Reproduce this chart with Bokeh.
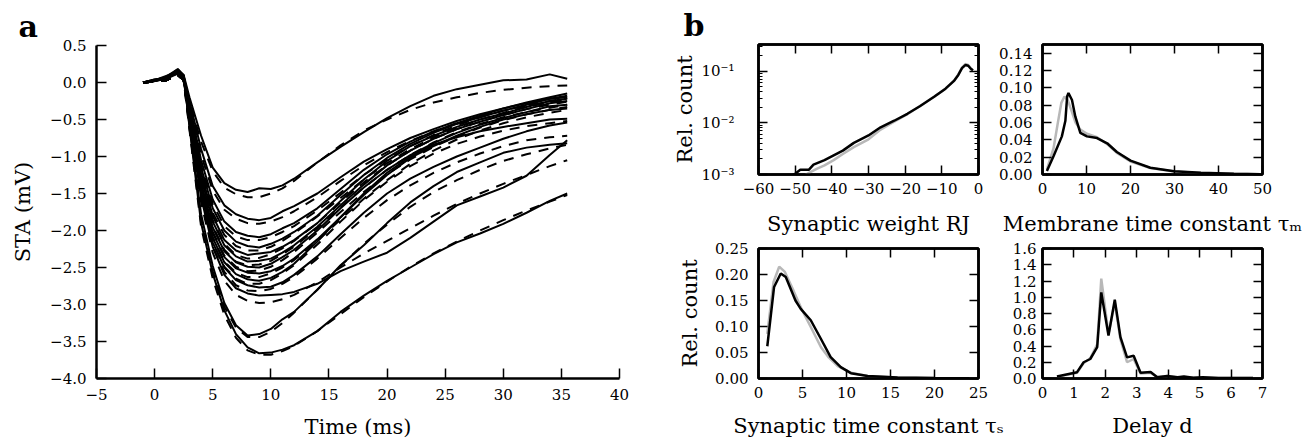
from bokeh.plotting import figure
from bokeh.layouts import row, column
from bokeh.models import (Title, LinearAxis, LogAxis, FixedTicker,
                          CustomJSTickFormatter, Range1d)
from bokeh.embed import file_html
from bokeh.resources import INLINE

FONT = "DejaVu Serif"

# ---------------- panel a data: spike-triggered averages (solid) and fits (dashed)
T = [-1, 0, 1, 2, 2.5, 3, 4, 5, 6, 7, 8, 9, 10, 11, 12, 14, 16, 18, 20, 22, 24, 26, 28, 30, 32, 34, 35.5]

STA_1 = [0.00, 0.03, 0.07, 0.17, 0.10, -0.20, -0.72, -1.15, -1.36, -1.45, -1.48, -1.43, -1.44, -1.39, -1.30, -1.08, -0.87, -0.67, -0.48, -0.32, -0.18, -0.09, -0.03, 0.03, 0.04, 0.11, 0.05]
FIT_1 = [0.00, 0.01, 0.04, 0.10, 0.04, -0.26, -0.80, -1.20, -1.42, -1.51, -1.55, -1.55, -1.50, -1.43, -1.33, -1.08, -0.85, -0.65, -0.50, -0.37, -0.27, -0.20, -0.14, -0.10, -0.07, -0.05, -0.04]
STA_2 = [0.00, 0.02, 0.05, 0.15, 0.08, -0.25, -0.90, -1.40, -1.66, -1.78, -1.84, -1.86, -1.83, -1.74, -1.67, -1.50, -1.28, -1.07, -0.90, -0.75, -0.63, -0.52, -0.43, -0.35, -0.28, -0.22, -0.20]
FIT_2 = [0.00, 0.01, 0.03, 0.10, 0.03, -0.30, -0.98, -1.46, -1.72, -1.84, -1.90, -1.91, -1.88, -1.82, -1.74, -1.55, -1.33, -1.12, -0.94, -0.79, -0.66, -0.55, -0.46, -0.38, -0.31, -0.26, -0.22]
STA_3 = [0.00, 0.04, 0.06, 0.14, 0.07, -0.30, -1.05, -1.58, -1.88, -2.02, -2.07, -2.09, -2.05, -1.97, -1.90, -1.70, -1.44, -1.18, -0.97, -0.80, -0.66, -0.55, -0.45, -0.35, -0.27, -0.20, -0.15]
FIT_3 = [0.00, 0.01, 0.03, 0.10, 0.03, -0.34, -1.12, -1.64, -1.94, -2.08, -2.13, -2.13, -2.09, -2.02, -1.94, -1.73, -1.49, -1.25, -1.04, -0.86, -0.71, -0.58, -0.47, -0.38, -0.31, -0.25, -0.21]
STA_4 = [0.00, 0.02, 0.08, 0.13, 0.06, -0.33, -1.15, -1.70, -2.00, -2.15, -2.21, -2.23, -2.18, -2.11, -2.02, -1.80, -1.52, -1.25, -1.02, -0.83, -0.68, -0.56, -0.47, -0.38, -0.30, -0.22, -0.18]
FIT_4 = [0.00, 0.01, 0.03, 0.10, 0.03, -0.37, -1.20, -1.76, -2.06, -2.21, -2.27, -2.27, -2.22, -2.14, -2.04, -1.81, -1.56, -1.31, -1.09, -0.90, -0.74, -0.61, -0.50, -0.41, -0.33, -0.27, -0.23]
STA_5 = [0.00, 0.03, 0.05, 0.16, 0.09, -0.36, -1.22, -1.80, -2.13, -2.27, -2.33, -2.31, -2.29, -2.22, -2.13, -1.90, -1.60, -1.31, -1.06, -0.86, -0.72, -0.60, -0.50, -0.42, -0.33, -0.25, -0.22]
FIT_5 = [0.00, 0.01, 0.03, 0.10, 0.03, -0.40, -1.28, -1.86, -2.18, -2.33, -2.38, -2.37, -2.32, -2.24, -2.14, -1.90, -1.62, -1.35, -1.12, -0.92, -0.76, -0.63, -0.53, -0.44, -0.36, -0.30, -0.26]
STA_6 = [0.00, 0.02, 0.07, 0.12, 0.05, -0.40, -1.28, -1.88, -2.20, -2.35, -2.42, -2.41, -2.38, -2.30, -2.20, -1.95, -1.66, -1.38, -1.12, -0.92, -0.76, -0.63, -0.53, -0.44, -0.36, -0.28, -0.25]
FIT_6 = [0.00, 0.01, 0.03, 0.10, 0.03, -0.43, -1.33, -1.94, -2.26, -2.42, -2.47, -2.46, -2.41, -2.32, -2.22, -1.97, -1.69, -1.42, -1.18, -0.98, -0.81, -0.67, -0.56, -0.47, -0.40, -0.34, -0.30]
STA_7 = [0.00, 0.04, 0.06, 0.18, 0.10, -0.42, -1.35, -1.96, -2.28, -2.43, -2.49, -2.50, -2.45, -2.36, -2.26, -2.00, -1.70, -1.42, -1.18, -0.98, -0.82, -0.68, -0.57, -0.48, -0.40, -0.32, -0.30]
FIT_7 = [0.00, 0.01, 0.03, 0.10, 0.03, -0.46, -1.40, -2.02, -2.34, -2.49, -2.55, -2.54, -2.49, -2.40, -2.29, -2.03, -1.75, -1.48, -1.24, -1.04, -0.87, -0.73, -0.61, -0.51, -0.43, -0.37, -0.33]
STA_8 = [0.00, 0.03, 0.09, 0.15, 0.07, -0.45, -1.40, -2.03, -2.36, -2.51, -2.57, -2.58, -2.55, -2.48, -2.38, -2.12, -1.82, -1.52, -1.25, -1.02, -0.86, -0.72, -0.60, -0.50, -0.43, -0.37, -0.35]
FIT_8 = [0.00, 0.01, 0.03, 0.10, 0.03, -0.49, -1.46, -2.09, -2.42, -2.57, -2.63, -2.63, -2.58, -2.50, -2.40, -2.14, -1.85, -1.57, -1.32, -1.10, -0.92, -0.77, -0.65, -0.55, -0.47, -0.41, -0.37]
STA_9 = [0.00, 0.02, 0.06, 0.14, 0.06, -0.48, -1.47, -2.10, -2.43, -2.59, -2.66, -2.68, -2.64, -2.56, -2.45, -2.15, -1.82, -1.50, -1.22, -1.00, -0.84, -0.74, -0.66, -0.60, -0.55, -0.50, -0.49]
FIT_9 = [0.00, 0.01, 0.03, 0.10, 0.03, -0.52, -1.52, -2.16, -2.49, -2.65, -2.72, -2.72, -2.67, -2.58, -2.47, -2.19, -1.88, -1.59, -1.34, -1.13, -0.96, -0.83, -0.73, -0.65, -0.59, -0.55, -0.52]
STA_10 = [0.00, 0.03, 0.07, 0.13, 0.05, -0.50, -1.50, -2.16, -2.50, -2.67, -2.74, -2.77, -2.76, -2.70, -2.60, -2.35, -2.05, -1.76, -1.50, -1.30, -1.14, -1.00, -0.88, -0.76, -0.66, -0.58, -0.54]
FIT_10 = [0.00, 0.01, 0.03, 0.10, 0.03, -0.54, -1.56, -2.22, -2.56, -2.74, -2.81, -2.82, -2.79, -2.72, -2.63, -2.38, -2.10, -1.83, -1.59, -1.39, -1.22, -1.08, -0.96, -0.86, -0.78, -0.74, -0.72]
STA_11 = [0.00, 0.02, 0.05, 0.12, 0.04, -0.52, -1.55, -2.22, -2.60, -2.78, -2.85, -2.88, -2.87, -2.86, -2.83, -2.72, -2.55, -2.42, -2.30, -2.10, -1.88, -1.66, -1.54, -1.42, -1.26, -0.98, -0.78]
FIT_11 = [0.00, 0.01, 0.03, 0.10, 0.03, -0.56, -1.62, -2.30, -2.68, -2.87, -2.95, -2.98, -2.97, -2.93, -2.87, -2.70, -2.50, -2.31, -2.14, -1.97, -1.80, -1.64, -1.50, -1.37, -1.25, -1.13, -1.05]
STA_12 = [0.00, 0.03, 0.06, 0.16, 0.08, -0.58, -1.78, -2.48, -2.98, -3.28, -3.42, -3.40, -3.33, -3.20, -3.10, -2.80, -2.47, -2.20, -1.90, -1.62, -1.40, -1.21, -1.08, -0.95, -0.88, -0.84, -0.82]
FIT_12 = [0.00, 0.01, 0.03, 0.10, 0.03, -0.62, -1.84, -2.55, -3.03, -3.31, -3.44, -3.44, -3.37, -3.25, -3.11, -2.80, -2.48, -2.18, -1.92, -1.68, -1.48, -1.32, -1.18, -1.06, -0.97, -0.89, -0.84]
STA_13 = [0.00, 0.02, 0.08, 0.18, 0.09, -0.60, -1.90, -2.58, -3.08, -3.40, -3.58, -3.66, -3.65, -3.61, -3.55, -3.36, -3.10, -2.88, -2.68, -2.50, -2.32, -2.16, -2.04, -1.91, -1.76, -1.60, -1.50]
FIT_13 = [0.00, 0.01, 0.03, 0.10, 0.03, -0.64, -1.95, -2.65, -3.14, -3.45, -3.62, -3.68, -3.68, -3.63, -3.56, -3.36, -3.13, -2.90, -2.69, -2.49, -2.31, -2.15, -2.00, -1.86, -1.73, -1.61, -1.52]

STAS = [STA_1, STA_2, STA_3, STA_4, STA_5, STA_6, STA_7, STA_8, STA_9, STA_10, STA_11, STA_12, STA_13]
FITS = [FIT_1, FIT_2, FIT_3, FIT_4, FIT_5, FIT_6, FIT_7, FIT_8, FIT_9, FIT_10, FIT_11, FIT_12, FIT_13]

A_XTICKS = [-5, 0, 5, 10, 15, 20, 25, 30, 35, 40]
A_YTICKS = [-4.0, -3.5, -3.0, -2.5, -2.0, -1.5, -1.0, -0.5, 0.0, 0.5]

# ---------------- panel b data: distributions (grey and black)
W_X_BLACK = [-51, -50, -48.6, -46.3, -45, -42, -39.5, -37, -34, -30, -26.7, -23, -19.4, -16, -12.1, -9, -6.6, -5.5, -4.5, -3.6, -2.8, -2.1, -1.5]
W_Y_BLACK = [0.00095, 0.00103, 0.00123, 0.00123, 0.00155, 0.0019, 0.00235, 0.0029, 0.0041, 0.0057, 0.0082, 0.011, 0.015, 0.021, 0.032, 0.046, 0.066, 0.085, 0.115, 0.132, 0.128, 0.112, 0.105]
W_X_GREY = [-47.5, -46, -44, -42, -39.5, -37, -34, -30, -26.7, -23, -19.4, -16, -12.1, -9, -6.6, -5.5, -4.5, -3.6, -2.8, -2.1, -1.5]
W_Y_GREY = [0.00095, 0.0011, 0.0013, 0.0015, 0.0019, 0.0025, 0.0034, 0.0048, 0.0074, 0.0105, 0.0148, 0.021, 0.032, 0.046, 0.067, 0.087, 0.118, 0.138, 0.132, 0.114, 0.104]

TM_X_BLACK = [1.0, 2.5, 4.4, 5.2, 5.6, 5.9, 6.7, 7.45, 8.6, 10.1, 12.4, 14.7, 16.9, 20, 24.5, 29.9, 36, 43.5, 49.5]
TM_Y_BLACK = [0.004, 0.021, 0.044, 0.062, 0.090, 0.094, 0.086, 0.067, 0.048, 0.044, 0.042, 0.036, 0.026, 0.016, 0.0078, 0.0038, 0.002, 0.0009, 0.0004]
TM_X_GREY = [1.0, 2.5, 3.5, 4.3, 5.0, 5.8, 6.7, 7.5, 8.6, 10.1, 12.4, 14.7, 16.9, 20, 24.5, 29.9, 36, 43.5, 49.5]
TM_Y_GREY = [0.006, 0.030, 0.060, 0.083, 0.090, 0.085, 0.072, 0.060, 0.052, 0.047, 0.043, 0.035, 0.025, 0.015, 0.0075, 0.0035, 0.0018, 0.0008, 0.0004]

TS_X_BLACK = [1.0, 1.77, 2.53, 3.1, 4.2, 4.8, 5.94, 7.1, 8.2, 9.35, 10.5, 12.4, 15.8, 20, 24]
TS_Y_BLACK = [0.062, 0.176, 0.202, 0.195, 0.150, 0.134, 0.112, 0.076, 0.041, 0.022, 0.0103, 0.005, 0.002, 0.001, 0.0005]
TS_X_GREY = [1.0, 1.7, 2.35, 3.0, 4.0, 5.0, 5.94, 7.1, 8.0, 9.0, 10.5, 12.4, 15.8, 20, 24]
TS_Y_GREY = [0.086, 0.185, 0.215, 0.205, 0.168, 0.130, 0.099, 0.060, 0.040, 0.024, 0.011, 0.005, 0.002, 0.001, 0.0005]

D_X = [0.46, 1.1, 1.31, 1.52, 1.74, 1.87, 2.1, 2.3, 2.48, 2.69, 2.9, 3.12, 3.44, 3.65, 3.97, 4.3, 4.5, 4.8, 5.1, 5.6, 6.7]
D_Y_BLACK = [0.025, 0.078, 0.20, 0.24, 0.385, 1.06, 0.53, 0.97, 0.51, 0.26, 0.28, 0.07, 0.08, 0.016, 0.03, 0.015, 0.025, 0.01, 0.015, 0.005, 0.005]
D_Y_GREY = [0.02, 0.07, 0.19, 0.25, 0.42, 1.23, 0.55, 0.93, 0.48, 0.20, 0.24, 0.06, 0.07, 0.02, 0.03, 0.012, 0.02, 0.01, 0.012, 0.005, 0.005]

W_XTICKS = [-60, -50, -40, -30, -20, -10, 0]
W_YTICKS = [1e-3, 1e-2, 1e-1]
W_YMINOR = [2e-3, 3e-3, 4e-3, 5e-3, 6e-3, 7e-3, 8e-3, 9e-3,
            2e-2, 3e-2, 4e-2, 5e-2, 6e-2, 7e-2, 8e-2, 9e-2, 2e-1, 3e-1]
TM_XTICKS = [0, 10, 20, 30, 40, 50]
TM_YTICKS = [0.00, 0.02, 0.04, 0.06, 0.08, 0.10, 0.12, 0.14]
TS_XTICKS = [0, 5, 10, 15, 20, 25]
TS_YTICKS = [0.00, 0.05, 0.10, 0.15, 0.20, 0.25]
D_XTICKS = [0, 1, 2, 3, 4, 5, 6, 7]
D_YTICKS = [0.0, 0.2, 0.4, 0.6, 0.8, 1.0, 1.2, 1.4, 1.6]

GREY = "#b8b8b8"


def fmt(decimals):
    return CustomJSTickFormatter(code="return tick.toFixed(%d).replace('-', '\\u2212');" % decimals)


LOGFMT = CustomJSTickFormatter(code="""
const e = Math.round(Math.log10(tick));
const m = {"-": "\\u207b", "0": "\\u2070", "1": "\\u00b9", "2": "\\u00b2", "3": "\\u00b3"};
return "10" + String(e).split("").map(c => m[c]).join("");
""")


def style(ax, tick_len=9, standoff=8, label_standoff=8):
    ax.major_label_text_font = FONT
    ax.major_label_text_font_size = "15px"
    ax.major_label_text_color = "black"
    ax.axis_label_text_font = FONT
    ax.axis_label_text_font_size = "21px"
    ax.axis_label_text_font_style = "normal"
    ax.axis_label_text_color = "black"
    ax.major_tick_in = tick_len
    ax.major_tick_out = 0
    ax.minor_tick_in = 0
    ax.minor_tick_out = 0
    ax.major_tick_line_width = 1.5
    ax.major_tick_line_color = "black"
    ax.minor_tick_line_width = 1.2
    ax.minor_tick_line_color = "black"
    ax.axis_line_width = 2.5
    ax.axis_line_color = "black"
    ax.major_label_standoff = standoff
    ax.axis_label_standoff = label_standoff


def base(width, height, xr, yr, left, right, top, bottom, ylog=False):
    p = figure(width=width, height=height, x_range=Range1d(*xr), y_range=Range1d(*yr),
               y_axis_type="log" if ylog else "linear",
               output_backend="svg", toolbar_location=None,
               min_border_left=left, min_border_right=right,
               min_border_top=top, min_border_bottom=bottom)
    p.xgrid.visible = False
    p.ygrid.visible = False
    p.background_fill_color = "white"
    p.border_fill_color = "white"
    return p


def panel_letter(p, letter, offset):
    p.add_layout(Title(text=letter, align="left", offset=offset, text_font=FONT,
                       text_font_style="bold", text_font_size="30px",
                       text_color="black", standoff=4), "above")


# ---------------- panel a
pa = base(660, 446, (-5, 40), (-4.0, 0.5), 96, 41, 45, 68)
pa.outline_line_color = None
for F in FITS:
    pa.line(T, F, line_color="black", line_width=2, line_dash="10 8")
for S in STAS:
    pa.line(T, S, line_color="black", line_width=2)
ax_b = pa.xaxis[0]
ax_l = pa.yaxis[0]
ax_b.ticker = FixedTicker(ticks=A_XTICKS)
ax_l.ticker = FixedTicker(ticks=A_YTICKS)
ax_b.formatter = fmt(0)
ax_l.formatter = fmt(1)
ax_b.axis_label = "Time (ms)"
ax_l.axis_label = "STA (mV)"
style(ax_b, tick_len=10, standoff=10, label_standoff=12)
style(ax_l, tick_len=10, standoff=10, label_standoff=12)
panel_letter(pa, "a", -78)


# ---------------- panel b helper
def boxed(p, xticks, yticks, xfmt, yfmt, ylog=False, yminor=None):
    p.outline_line_color = "black"
    p.outline_line_width = 2.5
    bottom = p.xaxis[0]
    left = p.yaxis[0]
    bottom.ticker = FixedTicker(ticks=xticks)
    left.ticker = FixedTicker(ticks=yticks, minor_ticks=yminor or [])
    bottom.formatter = xfmt
    left.formatter = yfmt
    style(bottom, standoff=8, label_standoff=8)
    style(left, standoff=10, label_standoff=8)
    if yminor:
        left.minor_tick_in = 4
    top = LinearAxis(ticker=FixedTicker(ticks=xticks))
    right = (LogAxis if ylog else LinearAxis)(ticker=FixedTicker(ticks=yticks, minor_ticks=yminor or []))
    for ax in (top, right):
        style(ax, standoff=0, label_standoff=0)
        ax.major_label_text_font_size = "1px"
        ax.major_label_text_color = None
    if yminor:
        right.minor_tick_in = 4
    p.add_layout(top, "above")
    p.add_layout(right, "right")
    return bottom, left


# top-left: synaptic weight (log)
b1 = base(324, 238, (-60, 0), (1e-3, 0.33), 98, 6, 44, 63, ylog=True)
b1.line(W_X_GREY, W_Y_GREY, line_color=GREY, line_width=2.5)
b1.line(W_X_BLACK, W_Y_BLACK, line_color="black", line_width=2.5)
b1x, b1y = boxed(b1, W_XTICKS, W_YTICKS, fmt(0), LOGFMT, ylog=True, yminor=W_YMINOR)
b1x.axis_label = "Synaptic weight RJ"
b1x.axis_label_standoff = 15
b1y.axis_label = "Rel. count"
b1y.major_label_standoff = 24
b1y.axis_label_standoff = 1
panel_letter(b1, "b", -75)

# top-right: membrane time constant
b2 = base(332, 238, (0, 50), (0, 0.15), 58, 54, 44, 63)
b2.line(TM_X_GREY, TM_Y_GREY, line_color=GREY, line_width=2.5)
b2.line(TM_X_BLACK, TM_Y_BLACK, line_color="black", line_width=2.5)
b2x, b2y = boxed(b2, TM_XTICKS, TM_YTICKS, fmt(0), fmt(2))
b2x.axis_label = "Membrane time constant \u03c4\u2098"
b2x.axis_label_standoff = 15

# bottom-left: synaptic time constant
b3 = base(347, 208, (0, 25), (0, 0.25), 98, 29, 10, 68)
b3.line(TS_X_GREY, TS_Y_GREY, line_color=GREY, line_width=2.5)
b3.line(TS_X_BLACK, TS_Y_BLACK, line_color="black", line_width=2.5)
b3x, b3y = boxed(b3, TS_XTICKS, TS_YTICKS, fmt(0), fmt(2))
b3x.axis_label = "Synaptic time constant \u03c4\u209b"
b3x.axis_label_standoff = 13
b3y.axis_label = "Rel. count"
b3y.axis_label_standoff = 10

# bottom-right: delay
b4 = base(309, 208, (0, 7), (0, 1.6), 35, 54, 10, 68)
b4.line(D_X, D_Y_GREY, line_color=GREY, line_width=2.5)
b4.line(D_X, D_Y_BLACK, line_color="black", line_width=2.5)
b4x, b4y = boxed(b4, D_XTICKS, D_YTICKS, fmt(0), fmt(1))
b4y.major_label_standoff = 6
b4x.axis_label = "Delay d"
b4x.axis_label_standoff = 13

layout = row(pa, column(row(b1, b2), row(b3, b4)))

open("out.html", "w").write(file_html(layout, INLINE))
